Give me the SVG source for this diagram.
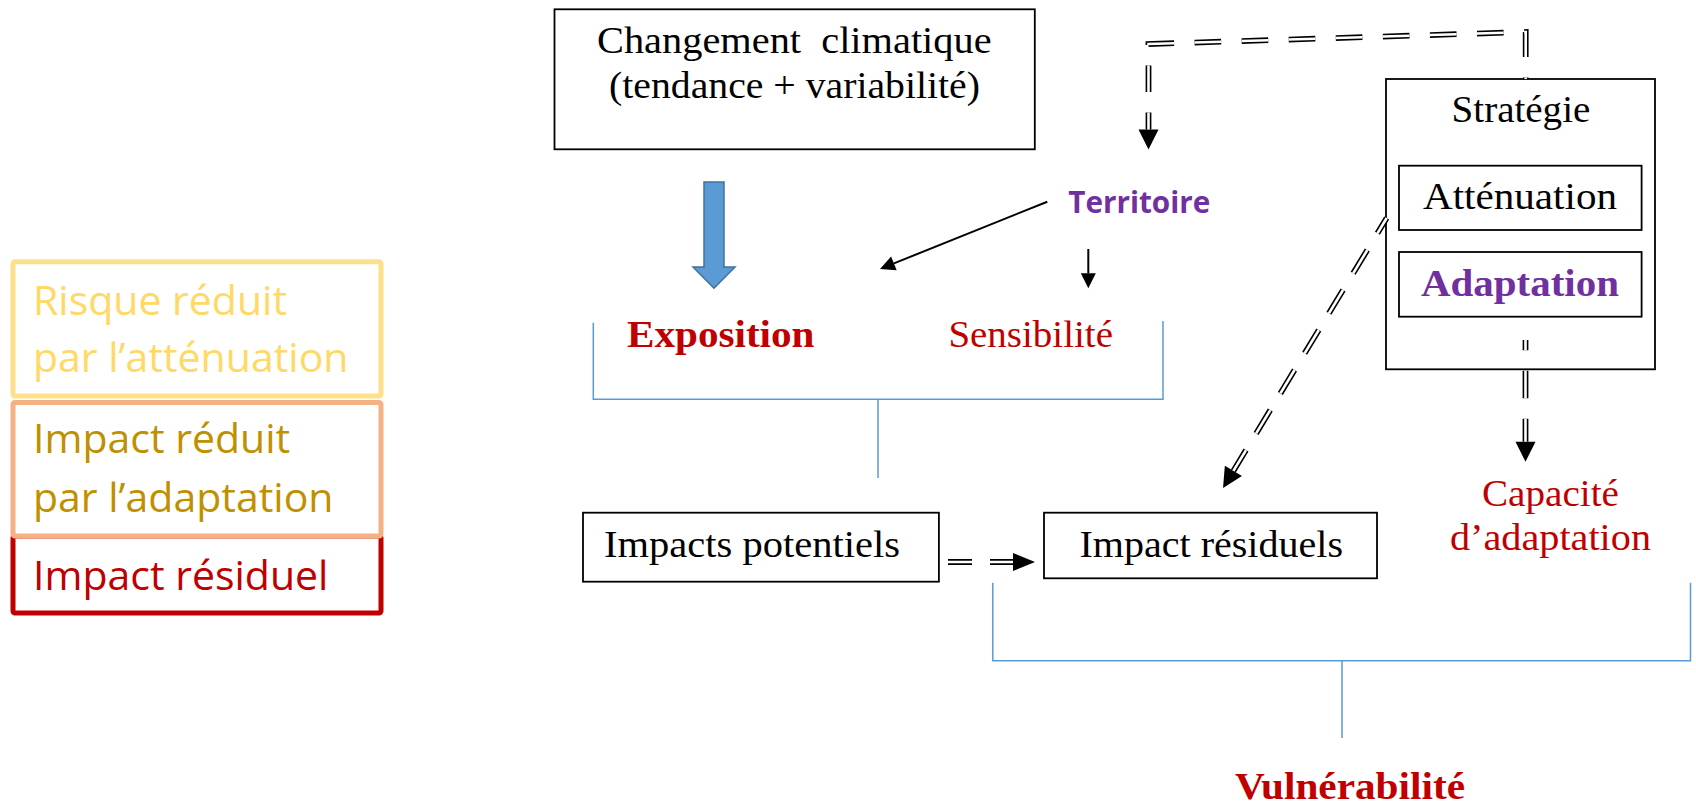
<svg xmlns="http://www.w3.org/2000/svg" width="1696" height="805" viewBox="0 0 1696 805">
<style>
.bg{fill:#fff}
.box{fill:#fff;stroke:#000;stroke-width:1.8}
.serif{font-family:"Liberation Serif","Times New Roman",serif;font-size:38px;fill:#000}
.bold{font-weight:bold}
.red{fill:#C00000}
.purple{fill:#7030A0}
.sans{font-family:"Open Sans","Noto Sans",sans-serif}
.leg{font-family:"Open Sans","Noto Sans",sans-serif;font-size:41px}
.bracket{fill:none;stroke:#5B9BD5;stroke-width:1.5}
.solid{fill:none;stroke:#000;stroke-width:2}
.dblo{fill:none;stroke:#000;stroke-width:5.8}
.dbli{fill:none;stroke:#fff;stroke-width:2.6}
.pre{white-space:pre}
</style>
<defs>
<marker id="headBig" markerUnits="userSpaceOnUse" markerWidth="22" markerHeight="22" refX="0" refY="11" orient="auto" overflow="visible">
<path d="M0,1 L20,11 L0,21 z" fill="#000"/>
</marker>
<marker id="headMid" markerUnits="userSpaceOnUse" markerWidth="24" markerHeight="20" refX="0" refY="9" orient="auto" overflow="visible">
<path d="M0,0 L22,9 L0,18 z" fill="#000"/>
</marker>
<marker id="headSmall" markerUnits="userSpaceOnUse" markerWidth="16" markerHeight="16" refX="0" refY="7.5" orient="auto" overflow="visible">
<path d="M0,0 L15,7.5 L0,15 z" fill="#000"/>
</marker>
</defs>
<rect class="bg" x="0" y="0" width="1696" height="805"/>

<g id="legend">
<rect x="13" y="536" width="368" height="77" rx="2" fill="#fff" stroke="#C00000" stroke-width="5"/>
<rect x="13" y="402.5" width="368" height="133.5" rx="2" fill="#fff" stroke="#F4B183" stroke-width="5"/>
<rect x="13" y="261.7" width="368" height="134.3" rx="2" fill="#fff" stroke="#FFE08A" stroke-width="5"/>
<text class="leg" x="33" y="315" fill="#FFD966">Risque réduit</text>
<text class="leg" x="33" y="371.7" fill="#FFD966">par l’atténuation</text>
<text class="leg" x="33" y="453.3" fill="#BF9000">Impact réduit</text>
<text class="leg" x="33" y="511.7" fill="#BF9000">par l’adaptation</text>
<text class="leg" x="33" y="590" fill="#C00000">Impact résiduel</text>
</g>

<g id="changement">
<rect class="box" x="554.5" y="9.3" width="480.3" height="140"/>
<text class="serif pre" x="597" y="53" textLength="394.6" lengthAdjust="spacingAndGlyphs">Changement  climatique</text>
<text class="serif" x="609" y="98" textLength="371" lengthAdjust="spacingAndGlyphs">(tendance + variabilité)</text>
</g>

<g id="fleche-climat">
<polygon points="704,182 724,182 724,267 735,267 714,288.3 693,267 704,267" fill="#5B9BD5" stroke="#41719C" stroke-width="1.5"/>
</g>

<g id="territoire">
<text class="sans bold purple" x="1068.3" y="213" font-size="31" textLength="142" lengthAdjust="spacingAndGlyphs">Territoire</text>
</g>

<g id="exposition">
<text class="serif bold red" x="627" y="346.7" textLength="187.5" lengthAdjust="spacingAndGlyphs">Exposition</text>
</g>
<g id="sensibilite">
<text class="serif red" x="948.4" y="346.7" textLength="164.6" lengthAdjust="spacingAndGlyphs">Sensibilité</text>
</g>

<g id="strategie">
<rect class="box" x="1386" y="79" width="269" height="290.3" stroke-width="2"/>
<text class="serif" x="1451.6" y="121.7" textLength="138.7" lengthAdjust="spacingAndGlyphs">Stratégie</text>
</g>
<g id="attenuation">
<rect class="box" x="1399" y="165.7" width="242.6" height="64.3" stroke-width="2"/>
<text class="serif" x="1423" y="209" textLength="194" lengthAdjust="spacingAndGlyphs">Atténuation</text>
</g>
<g id="adaptation">
<rect class="box" x="1399" y="252" width="242.6" height="64.7" stroke-width="2"/>
<text class="serif bold purple" x="1421" y="296" textLength="198" lengthAdjust="spacingAndGlyphs">Adaptation</text>
</g>

<g id="impacts-potentiels">
<rect class="box" x="583" y="512.7" width="355.9" height="69"/>
<text class="serif" x="604" y="557" textLength="296" lengthAdjust="spacingAndGlyphs">Impacts potentiels</text>
</g>
<g id="impact-residuels">
<rect class="box" x="1044" y="512.7" width="333" height="65.6"/>
<text class="serif" x="1079.5" y="556.7" textLength="263.5" lengthAdjust="spacingAndGlyphs">Impact résiduels</text>
</g>

<g id="capacite">
<text class="serif red" x="1482" y="506" textLength="137" lengthAdjust="spacingAndGlyphs">Capacité</text>
<text class="serif red" x="1450" y="550" textLength="201" lengthAdjust="spacingAndGlyphs">d’adaptation</text>
</g>

<g id="vulnerabilite">
<text class="serif bold red" x="1235" y="799" textLength="230" lengthAdjust="spacingAndGlyphs">Vulnérabilité</text>
</g>

<g id="connectors">
<!-- brackets -->
<path class="bracket" d="M593.3,322.7 V399.3 H1163 V321 M878,399.3 V478"/>
<path class="bracket" d="M992.8,582.7 V660.7 H1690.5 V582.7 M1342,660.7 V738"/>
<!-- solid arrows from Territoire -->
<path class="solid" d="M1047.3,201.7 L893.9,263.4" marker-end="url(#headSmall)"/>
<path class="solid" d="M1088.3,249 V273.3" marker-end="url(#headSmall)"/>
<!-- dashed double: strategy -> territoire -->
<path class="dblo" d="M1525.7,79 V32 L1148.5,44 V129.5" stroke-dasharray="26.6 20.5" stroke-dashoffset="-22" marker-end="url(#headBig)"/>
<path class="dbli" d="M1525.7,79 V32 L1148.5,44 V129.5" stroke-dasharray="26.6 20.5" stroke-dashoffset="-22"/>
<!-- dashed double: strategy -> impact residuels -->
<path class="dblo" d="M1386.7,218 L1233.4,470.9" stroke-dasharray="27.3 19.5" stroke-dashoffset="9.4" marker-end="url(#headBig)"/>
<path class="dbli" d="M1386.7,218 L1233.4,470.9" stroke-dasharray="27.3 19.5" stroke-dashoffset="9.4"/>
<!-- dashed double: strategy -> capacite -->
<path class="dblo" d="M1525.5,340 V441.7" stroke-width="7.2" stroke-dasharray="27.6 20.4" stroke-dashoffset="17.3" marker-end="url(#headBig)"/>
<path class="dbli" d="M1525.5,340 V441.7" stroke-width="3.4" stroke-dasharray="27.6 20.4" stroke-dashoffset="17.3"/>
<!-- impacts potentiels -> impact residuels -->
<path class="dblo" d="M948,562 H1013" stroke-width="7" stroke-dasharray="24 18" marker-end="url(#headMid)"/>
<path class="dbli" d="M948,562 H1013" stroke-width="3" stroke-dasharray="24 18"/>
</g>
</svg>
